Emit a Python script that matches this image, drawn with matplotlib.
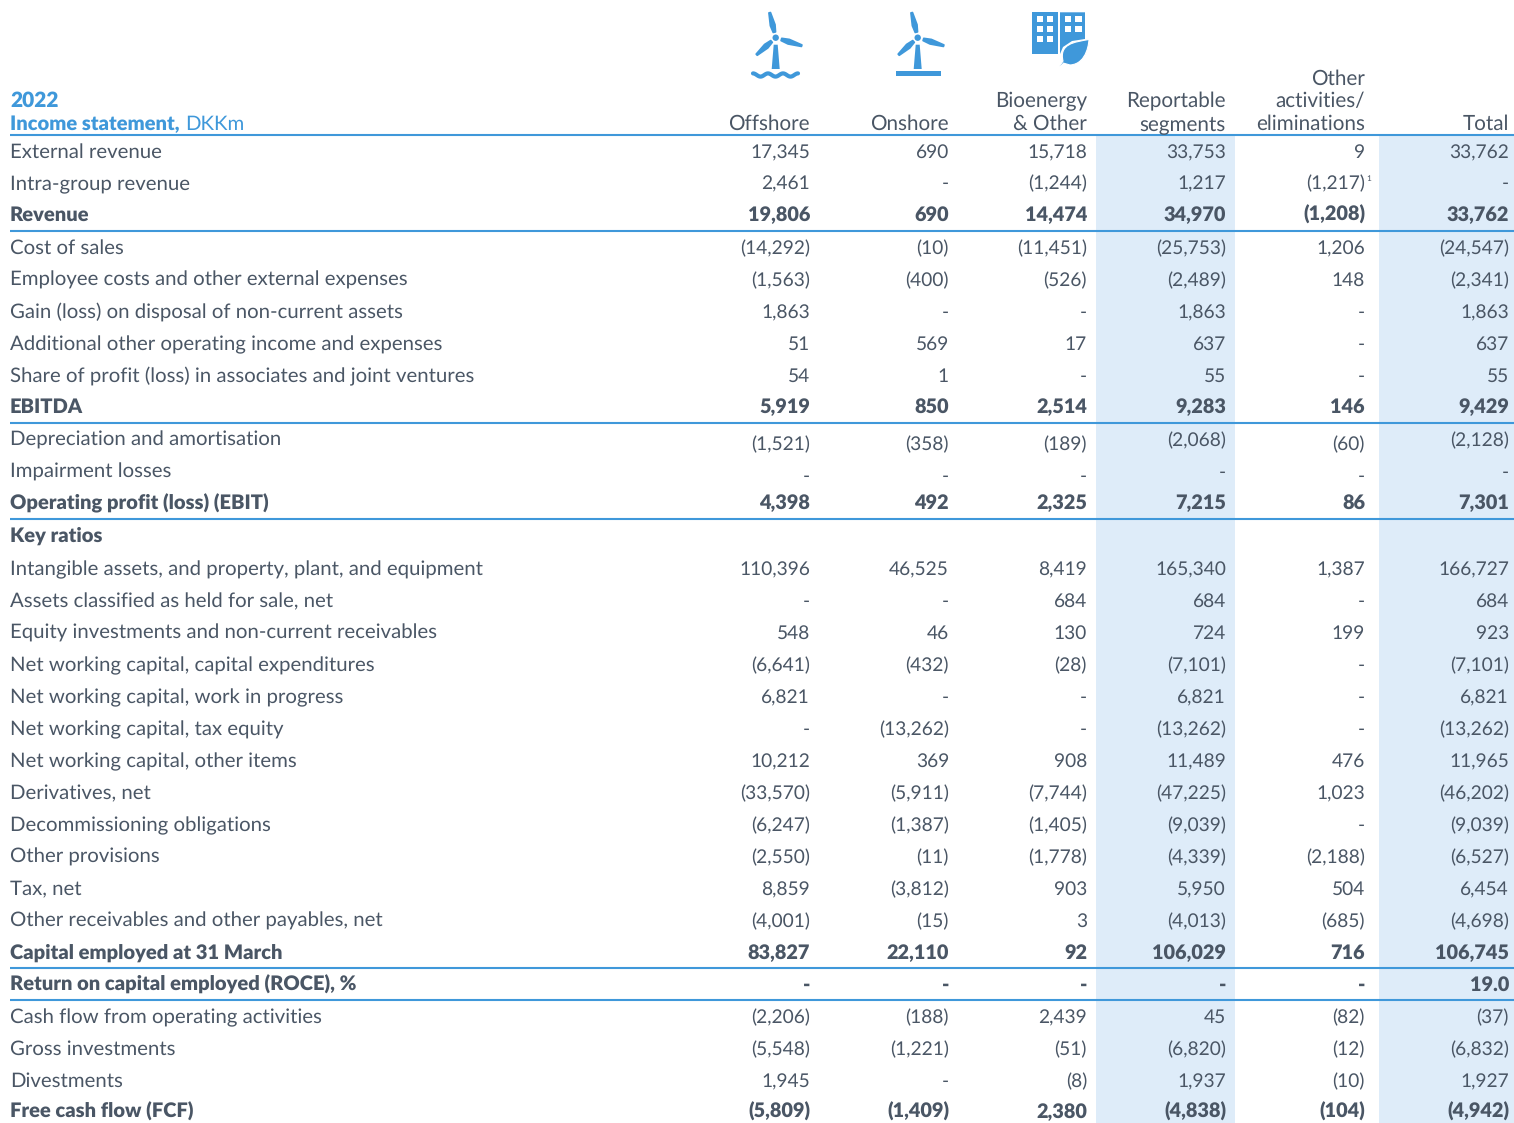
# ==============importing libraries==================
import matplotlib
matplotlib.use("Agg")
import numpy as np
import matplotlib.pyplot as plt
from matplotlib.patches import Rectangle, Polygon, Circle, PathPatch
from matplotlib.path import Path

# ===============table data==========================
labels = ["External revenue", "Intra-group revenue", "Revenue", "Cost of sales",
          "Employee costs and other external expenses", "Gain (loss) on disposal of non-current assets",
          "Additional other operating income and expenses", "Share of profit (loss) in associates and joint ventures",
          "EBITDA", "Depreciation and amortisation", "Impairment losses", "Operating profit (loss) (EBIT)",
          "Key ratios", "Intangible assets, and property, plant, and equipment", "Assets classified as held for sale, net",
          "Equity investments and non-current receivables", "Net working capital, capital expenditures",
          "Net working capital, work in progress", "Net working capital, tax equity", "Net working capital, other items",
          "Derivatives, net", "Decommissioning obligations", "Other provisions", "Tax, net",
          "Other receivables and other payables, net", "Capital employed at 31 March",
          "Return on capital employed (ROCE), %", "Cash flow from operating activities", "Gross investments",
          "Divestments", "Free cash flow (FCF)"]
offshore = ["17,345", "2,461", "19,806", "(14,292)", "(1,563)", "1,863", "51", "54", "5,919", "(1,521)", "-", "4,398",
            "", "110,396", "-", "548", "(6,641)", "6,821", "-", "10,212", "(33,570)", "(6,247)", "(2,550)", "8,859",
            "(4,001)", "83,827", "-", "(2,206)", "(5,548)", "1,945", "(5,809)"]
onshore = ["690", "-", "690", "(10)", "(400)", "-", "569", "1", "850", "(358)", "-", "492",
           "", "46,525", "-", "46", "(432)", "-", "(13,262)", "369", "(5,911)", "(1,387)", "(11)", "(3,812)",
           "(15)", "22,110", "-", "(188)", "(1,221)", "-", "(1,409)"]
bioenergy = ["15,718", "(1,244)", "14,474", "(11,451)", "(526)", "-", "17", "-", "2,514", "(189)", "-", "2,325",
             "", "8,419", "684", "130", "(28)", "-", "-", "908", "(7,744)", "(1,405)", "(1,778)", "903",
             "3", "92", "-", "2,439", "(51)", "(8)", "2,380"]
reportable = ["33,753", "1,217", "34,970", "(25,753)", "(2,489)", "1,863", "637", "55", "9,283", "(2,068)", "-", "7,215",
              "", "165,340", "684", "724", "(7,101)", "6,821", "(13,262)", "11,489", "(47,225)", "(9,039)", "(4,339)", "5,950",
              "(4,013)", "106,029", "-", "45", "(6,820)", "1,937", "(4,838)"]
other_act = ["9", "(1,217)", "(1,208)", "1,206", "148", "-", "-", "-", "146", "(60)", "-", "86",
             "", "1,387", "-", "199", "-", "-", "-", "476", "1,023", "-", "(2,188)", "504",
             "(685)", "716", "-", "(82)", "(12)", "(10)", "(104)"]
total = ["33,762", "-", "33,762", "(24,547)", "(2,341)", "1,863", "637", "55", "9,429", "(2,128)", "-", "7,301",
         "", "166,727", "684", "923", "(7,101)", "6,821", "(13,262)", "11,965", "(46,202)", "(9,039)", "(6,527)", "6,454",
         "(4,698)", "106,745", "19.0", "(37)", "(6,832)", "1,927", "(4,942)"]
headers = ["Offshore", "Onshore", "Bioenergy\n& Other", "Reportable\nsegments", "Other\nactivities/\neliminations", "Total"]
bold_rows = ["Revenue", "EBITDA", "Operating profit (loss) (EBIT)", "Key ratios", "Capital employed at 31 March",
             "Return on capital employed (ROCE), %", "Free cash flow (FCF)"]

# ===============layout (pixels)=====================
row_y = [151, 182, 214, 247, 279, 311, 343, 375, 406, 439, 471, 502, 535, 568, 600, 632, 664, 696, 728, 760,
         792, 824, 856, 888, 920, 952, 984, 1016, 1048, 1080, 1111]
col_right = [810, 949, 1087, 1226, 1365, 1509]
rule_y = [135, 231, 423, 519, 968, 1000]
BLUE = "#3f98da"
GREY = "#4a5665"
SHADE = "#deecf9"
FS = 14.7
BOLD_FS = 14.5
NUM_FS = 13.8
BOLD_NUM_FS = 14.3
BASE = 7  # baseline sits this far under the row centre
plt.rcParams['font.family'] = ['Lato', 'DejaVu Sans']
plt.rcParams['text.hinting'] = 'no_hinting'

fig = plt.figure(figsize=(15.14, 11.23), dpi=100)
ax = fig.add_axes([0, 0, 1, 1])
ax.set_xlim(0, 1514)
ax.set_ylim(1123, 0)
ax.axis("off")

# ==============shaded columns and rules=============
ax.add_patch(Rectangle((1096, 136), 139, 987, color=SHADE, lw=0))
ax.add_patch(Rectangle((1379, 136), 135, 987, color=SHADE, lw=0))
for y in rule_y:
    ax.plot([10, 1514], [y, y], color=BLUE, lw=1.5, solid_capstyle="butt")

# ==============header===============================
ax.text(10, 100 + BASE, "2022", color=BLUE, fontsize=15, fontweight="heavy", va="baseline")
ax.text(10, 123 + BASE, "Income statement,", color=BLUE, fontsize=BOLD_FS, fontweight="heavy", va="baseline")
ax.text(185, 123 + BASE, "DKKm", color=BLUE, fontsize=FS, va="baseline")
for x, h in zip(col_right, headers):
    lines = h.split("\n")
    for k, line in enumerate(lines[::-1]):
        ax.text(x, 123 + BASE - 22.5 * k, line, color=GREY, fontsize=14.9, ha="right", va="baseline")

# ==============table body===========================
columns = [offshore, onshore, bioenergy, reportable, other_act, total]
for i, label in enumerate(labels):
    is_bold = label in bold_rows
    weight = "heavy" if is_bold else "normal"
    size = BOLD_NUM_FS if is_bold else NUM_FS
    ax.text(10, row_y[i] + BASE, label, color=GREY, fontsize=BOLD_FS if is_bold else FS, fontweight=weight, va="baseline")
    for j, col in enumerate(columns):
        y = row_y[i] + BASE
        # the depreciation and impairment rows sit a little lower in some columns
        if label == "Depreciation and amortisation" and j in (0, 1, 2, 4):
            y += 4
        if label == "Impairment losses" and j in (0, 1, 2, 4):
            y += 4
        ax.text(col_right[j], y, col[i], color=GREY, fontsize=size, fontweight=weight, ha="right", va="baseline")
ax.text(1366, 179, "1", color=GREY, fontsize=6, ha="left", va="center")


# ==============icons================================
def blade(hub, tip, width):
    hub = np.array(hub)
    tip = np.array(tip)
    d = tip - hub
    n = np.array([-d[1], d[0]]) / np.hypot(*d)
    mid = hub + d * 0.5
    ax.add_patch(Polygon([hub + d * 0.22 + n * 1.2, mid + n * width, tip + n * 0.8, tip - n * 0.8, mid - n * width,
                          hub + d * 0.22 - n * 1.2], closed=True, facecolor=BLUE, edgecolor=BLUE, lw=1.2,
                         joinstyle="round"))


def turbine(hx, hy, tower_end):
    ax.add_patch(Circle((hx, hy), 3.2, color=BLUE, lw=0))
    blade((hx, hy), (hx - 6, hy - 25), 2.4)
    blade((hx, hy), (hx + 26, hy + 8), 2.4)
    blade((hx, hy), (hx - 19, hy + 17), 2.4)
    ax.add_patch(Polygon([(hx - 2, hy + 7), (hx + 2, hy + 7), (hx + 4, tower_end), (hx - 4, tower_end)],
                         closed=True, color=BLUE, lw=0))


turbine(775.7, 37.7, 69)
wave_t = np.linspace(0, 1, 60)
wave_x = 753 + 45 * wave_t
wave_y = 75 - 1.6 * np.cos(wave_t * 2 * np.pi * 3)
ax.plot(wave_x, wave_y, color=BLUE, lw=3, solid_capstyle="round")

turbine(917.7, 37.7, 69)
ax.add_patch(Rectangle((895.7, 70.5), 45, 5, color=BLUE, lw=0))

ax.add_patch(Rectangle((1032.3, 12.3), 25.4, 42, color=BLUE, lw=0))
ax.add_patch(Polygon([(1060, 12.3), (1085, 12.3), (1085, 39), (1072, 41), (1063, 47), (1060, 54)], closed=True,
                     color=BLUE, lw=0))
for wx in (1036.7, 1046.5):
    for wy in (16, 26, 36):
        ax.add_patch(Rectangle((wx, wy), 6, 6, color="white", lw=0))
for wx in (1064.5, 1075):
    for wy in (16, 26):
        ax.add_patch(Rectangle((wx, wy), 6.5, 6, color="white", lw=0))
leaf = Path([(1059, 67), (1063, 61), (1059, 44), (1074, 42), (1089, 39.5), (1089, 40), (1088, 64), (1070, 65),
             (1063, 63)],
            [Path.MOVETO, Path.LINETO, Path.CURVE4, Path.CURVE4, Path.CURVE4, Path.CURVE4, Path.CURVE4, Path.CURVE4,
             Path.LINETO])
ax.add_patch(PathPatch(leaf, facecolor=BLUE, edgecolor="white", lw=0.8))

fig.savefig("out.png", dpi=100)
